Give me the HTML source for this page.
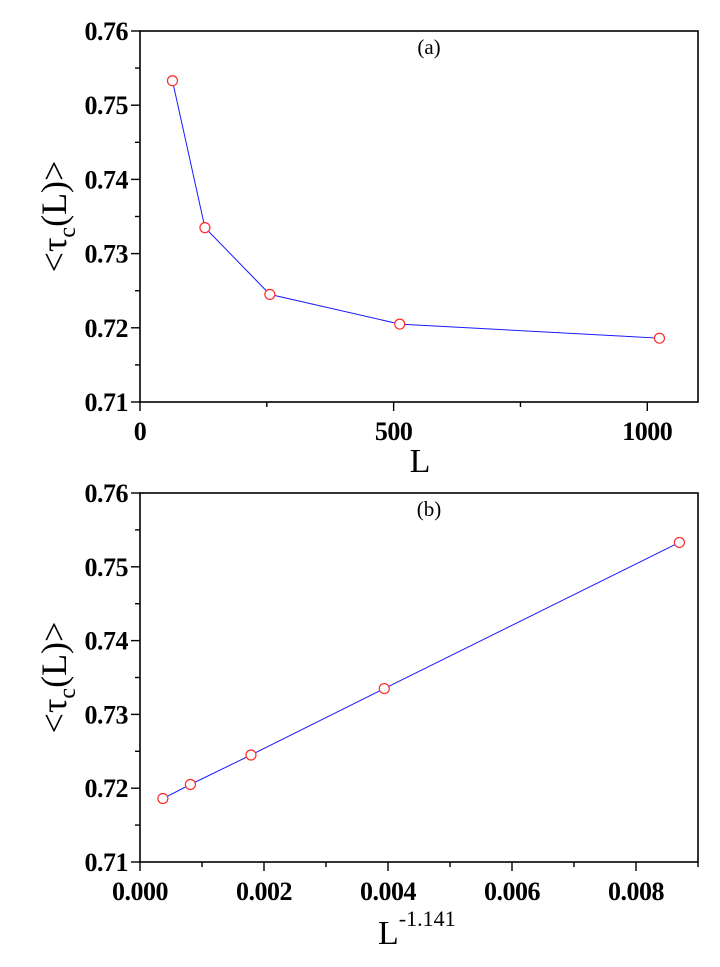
<!DOCTYPE html>
<html><head><meta charset="utf-8"><style>
body{margin:0;background:#fff;width:720px;height:962px;overflow:hidden}
svg text{font-family:"Liberation Serif",serif}
.tk{font-weight:bold;font-size:26px}
</style></head><body>
<svg id="c" width="720" height="962"></svg>
<script>
const sizes=[64,128,256,512,1024];
const tauValues=[0.7533,0.7335,0.7245,0.7205,0.7186];
const scaledX=[0.00870,0.00394,0.00179,0.000813,0.000369];
const yTicks=["0.71","0.72","0.73","0.74","0.75","0.76"];
const xTicksA=["0","500","1000"];
const xTicksB=["0.000","0.002","0.004","0.006","0.008"];
const NS="http://www.w3.org/2000/svg";
const svg=document.getElementById('c');
function mk(t,a,p){const e=document.createElementNS(NS,t);for(const k in a)e.setAttribute(k,a[k]);(p||svg).appendChild(e);return e;}
function panel(name,top,bottom,xmax,xs,ys,xticks,xMinorStep,xMajorStep,label){
  const L=140,R=698;
  const g=mk('g',{});
  
  
  const sx=v=>L+(v/xmax)*(R-L);
  const sy=v=>bottom-(v-0.71)/0.05*(bottom-top);
  const f=mk('rect',{x:L,y:top,width:R-L,height:bottom-top,fill:'none',stroke:'#000','stroke-width':1.6},g);
  
  
  for(let i=0;i<=10;i++){const v=0.71+i*0.005,y=sy(v);mk('line',{x1:L-(i%2?5:9),x2:L,y1:y,y2:y,stroke:'#000','stroke-width':1.4},g);}
  yTicks.forEach(t=>{const e=mk('text',{x:L-12,y:sy(+t)+9,'text-anchor':'end',class:'tk','letter-spacing':'-0.5'},g);e.textContent=t;
    });
  for(let v=0;v<=xmax+1e-12;v+=xMinorStep){const x=sx(v);const maj=Math.abs(v/xMajorStep-Math.round(v/xMajorStep))<1e-6;
    mk('line',{x1:x,x2:x,y1:bottom,y2:bottom+(maj?9:5),stroke:'#000','stroke-width':1.4},g);}
  xticks.forEach(t=>{const e=mk('text',{x:sx(+t),y:bottom+38,'text-anchor':'middle',class:'tk','letter-spacing':'-0.5'},g);e.textContent=t;
    });
  const pts=xs.map((v,i)=>sx(v)+','+sy(ys[i])).join(' ');
  const pl=mk('polyline',{points:pts,fill:'none',stroke:'#1a1aff','stroke-width':1},g);
  
  
  xs.forEach((v,i)=>{const c=mk('circle',{cx:sx(v),cy:sy(ys[i]),r:5,fill:'#fff',stroke:'#ff2a2a','stroke-width':1.2},g);
    });
  const pt=mk('text',{x:429,y:top+23,'text-anchor':'middle','font-size':'21px'},g);pt.textContent=label;
  
  const yl=mk('text',{transform:`translate(66,${(top+bottom)/2}) rotate(-90)`,'text-anchor':'middle','font-size':'36px'},g);
  yl.innerHTML='&lt;τ<tspan font-size="24px" dy="9">c</tspan><tspan dy="-9">(L)&gt;</tspan>';
  
  return {sx,sy,g};
}
panel('a',31,402,1100,sizes,tauValues,xTicksA,250,500,'(a)');
const xa=mk('text',{x:420,y:472,'text-anchor':'middle','font-size':'34px'});xa.textContent='L';

panel('b',493,862,0.009,scaledX,tauValues,xTicksB,0.001,0.002,'(b)');
const xb=mk('text',{x:378,y:944,'text-anchor':'start','font-size':'34px'});
xb.innerHTML='L<tspan font-size="22px" dy="-18">-1.141</tspan>';

</script>
</body></html>
